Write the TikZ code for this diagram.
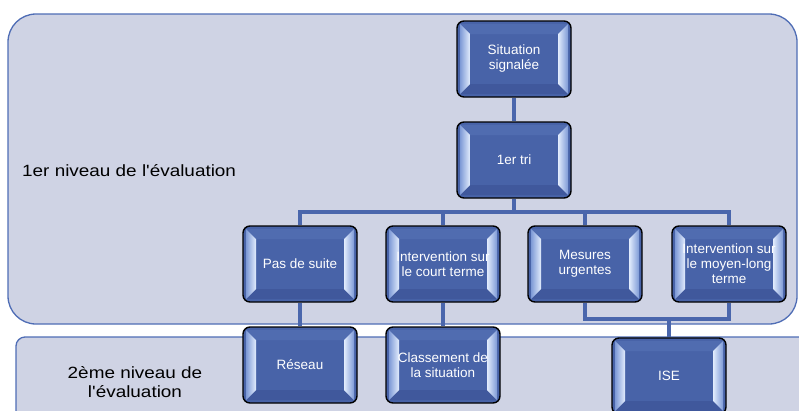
\documentclass[tikz,border=0pt]{standalone}
\usepackage{fontspec}
\setmainfont{Liberation Sans}
\newfontfamily\labelfont[FakeStretch=1.16]{Liberation Sans}
\usetikzlibrary{calc}
\pgfdeclarelayer{panels}
\pgfdeclarelayer{links}
\pgfsetlayers{panels,links,main}
\definecolor{panelfill}{HTML}{CFD3E4}
\definecolor{panelline}{HTML}{4F6DB5}
\definecolor{boxblue}{HTML}{4863A8}
\definecolor{linkblue}{HTML}{4A66AC}
\definecolor{bevlight}{HTML}{E2ECFD}
\definecolor{bevmid}{HTML}{7E9AD6}
\definecolor{bevtop}{HTML}{506CB0}
\definecolor{bevbot}{HTML}{40589C}
\tikzset{
  panel/.style={draw=panelline, line width=1.3pt, fill=panelfill},
  link/.style={draw=linkblue, line width=4.5pt},
  lvl/.style={text=black, font=\labelfont\fontsize{16.3}{19.5}\selectfont, inner sep=0pt},
  orgbox/.style={draw=black, line width=1.4pt, fill=boxblue, rounded corners=7pt,
    minimum width=114pt, minimum height=76pt, text=white, align=center, inner sep=1pt,
    font=\fontsize{13.5}{15}\selectfont,
    path picture={
      \coordinate (pnw) at (path picture bounding box.north west);
      \coordinate (pne) at (path picture bounding box.north east);
      \coordinate (psw) at (path picture bounding box.south west);
      \coordinate (pse) at (path picture bounding box.south east);
      \fill[bevtop, sharp corners] ($(pnw)+(3pt,-3pt)$) -- ($(pne)+(-3pt,-3pt)$) -- ($(pne)+(-13pt,-13pt)$) -- ($(pnw)+(13pt,-13pt)$) -- cycle;
      \fill[bevbot, sharp corners] ($(psw)+(3pt,3pt)$) -- ($(pse)+(-3pt,3pt)$) -- ($(pse)+(-13pt,13pt)$) -- ($(psw)+(13pt,13pt)$) -- cycle;
      \shade[left color=bevmid, right color=bevlight, sharp corners] ($(pnw)+(3pt,-3pt)$) -- ($(pnw)+(13pt,-13pt)$) -- ($(psw)+(13pt,13pt)$) -- ($(psw)+(3pt,3pt)$) -- cycle;
      \shade[left color=bevlight, right color=bevmid, sharp corners] ($(pne)+(-3pt,-3pt)$) -- ($(pne)+(-13pt,-13pt)$) -- ($(pse)+(-13pt,13pt)$) -- ($(pse)+(-3pt,3pt)$) -- cycle;
    }},
}
\begin{document}
\begin{tikzpicture}[x=1pt, y=-1pt]
\useasboundingbox (0,0) rectangle (799,410);
\begin{scope}
\clip (0,0) rectangle (799,410);
% coordinates of the buses
\coordinate (busy) at (0,212);
\coordinate (lowy) at (0,319);
% boxes
\node[orgbox] (sit) at (514,59) {Situation\\signalée};
\node[orgbox] (tri) at (514,160) {1er tri};
\node[orgbox] (pas) at (300,264) {Pas de suite};
\node[orgbox] (court) at (443,264) {Intervention sur\\le court terme};
\node[orgbox] (mes) at (585,264) {Mesures\\urgentes};
\node[orgbox] (moy) at (729,264) {Intervention sur\\le moyen-long\\terme};
\node[orgbox] (res) at (300,365) {Réseau};
\node[orgbox] (cla) at (443,365) {Classement de\\la situation};
\node[orgbox] (ise) at (669,376) {ISE};
% level labels
\node[lvl, anchor=base west] (lv1) at (22,176) {1er niveau de l'évaluation};
\node[lvl, align=center, anchor=center] (lv2) at (135,382) {2ème niveau de\\l'évaluation};
\end{scope}
\begin{pgfonlayer}{panels}
\clip (0,0) rectangle (799,410);
\draw[panel, rounded corners=28pt] (8,14) rectangle (797,324);
\draw[panel, rounded corners=9pt] (16,337) rectangle (830,440);
\end{pgfonlayer}
\begin{pgfonlayer}{links}
\clip (0,0) rectangle (799,410);
\draw[link] (sit.south) -- (tri.north);
\draw[link] (pas.north) -- (pas.north |- busy) -| (tri.south);
\draw[link] (court.north) -- (court.north |- busy);
\draw[link] (mes.north) -- (mes.north |- busy);
\draw[link] (moy.north) -- (moy.north |- busy) -| (tri.south);
\draw[link] (pas.south) -- (res.north);
\draw[link] (court.south) -- (cla.north);
\draw[link] (mes.south) -- (mes.south |- lowy) -| (moy.south);
\draw[link] (ise.north) -- (ise.north |- lowy);
\end{pgfonlayer}
\end{tikzpicture}
\end{document}
